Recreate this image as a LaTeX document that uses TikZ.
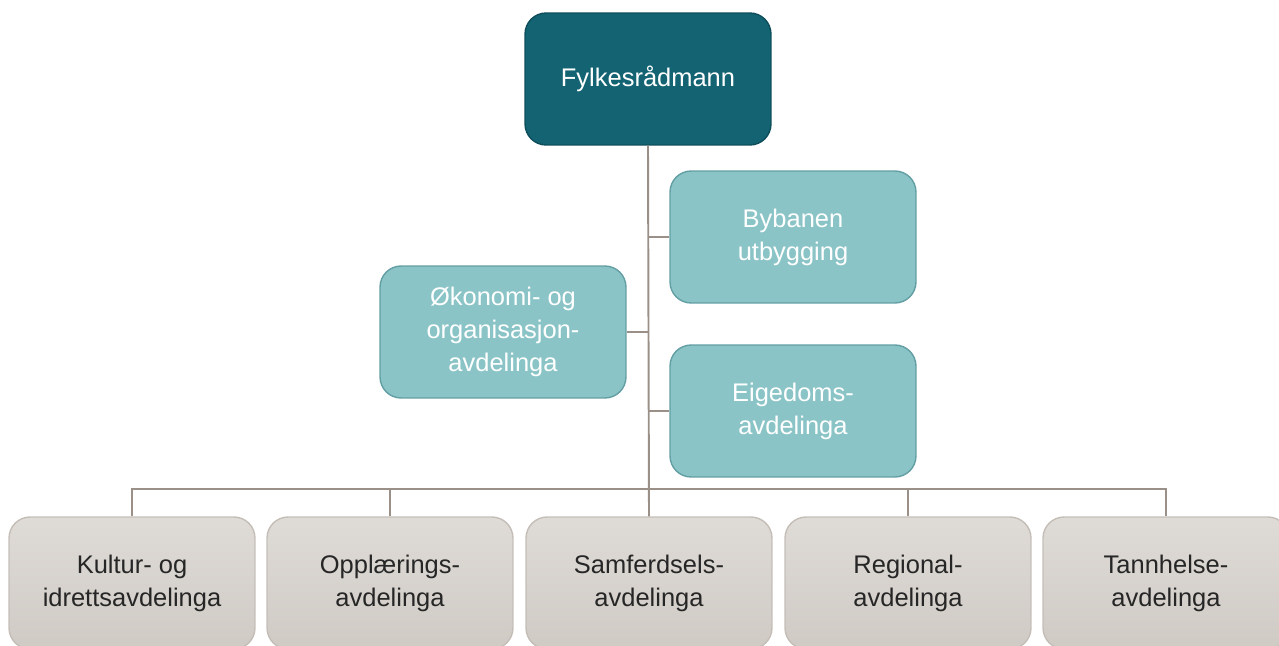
\documentclass[tikz,border=0pt]{standalone}
\usepackage{fontspec}
\setmainfont{Liberation Sans}
\definecolor{headfill}{HTML}{136373}
\definecolor{headline}{HTML}{0E4E5B}
\definecolor{stabfill}{HTML}{8AC4C7}
\definecolor{stabline}{HTML}{639FA4}
\definecolor{avdtop}{HTML}{DFDBD7}
\definecolor{avdbot}{HTML}{CFCAC4}
\definecolor{avdline}{HTML}{C4BEB7}
\definecolor{linkcol}{HTML}{9A9088}
\begin{document}
\begin{tikzpicture}[x=0.02cm, y=-0.02cm,
    box/.style={rounded corners=12pt, minimum width=4.92cm, minimum height=2.64cm,
        align=center, font=\fontsize{14.5}{18.8}\selectfont, line width=0.8pt},
    head/.style={box, fill=headfill, draw=headline, text=white},
    stab/.style={box, fill=stabfill, draw=stabline, text=white},
    avd/.style={box, top color=avdtop, bottom color=avdbot, draw=avdline, text=black!85},
    link/.style={draw=linkcol, line width=1.1pt}]
    \useasboundingbox (0,0) rectangle (1279,646);

    % --- top and staff units ---
    \node[head] (sjef) at (648,79) {Fylkesrådmann};
    \node[stab] (byb) at (793,237) {Bybanen\\utbygging};
    \node[stab] (okon) at (503,332) {Økonomi- og\\organisasjon-\\avdelinga};
    \node[stab] (eig) at (793,411) {Eigedoms-\\avdelinga};

    % --- departments ---
    \node[avd] (kult) at (132,583) {Kultur- og\\idrettsavdelinga};
    \node[avd] (oppl) at (390,583) {Opplærings-\\avdelinga};
    \node[avd] (samf) at (649,583) {Samferdsels-\\avdelinga};
    \node[avd] (reg) at (908,583) {Regional-\\avdelinga};
    \node[avd] (tann) at (1166,583) {Tannhelse-\\avdelinga};

    \coordinate (bus) at (649,489);

    % --- lines ---
    \draw[link] (sjef.south) -- (samf.north);
    \foreach \s in {byb,okon,eig} \draw[link] (\s) -- (\s -| sjef.south);
    \draw[link] (kult.north) |- (bus) -| (tann.north);
    \foreach \a in {oppl,reg} \draw[link] (\a.north) -- (\a.north |- bus);
\end{tikzpicture}
\end{document}
